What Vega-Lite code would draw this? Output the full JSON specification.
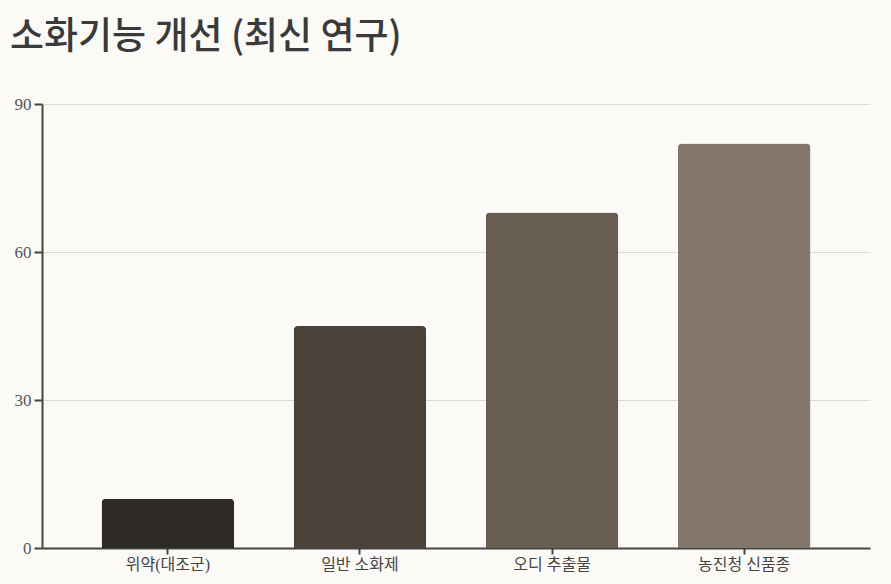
{
  "$schema": "https://vega.github.io/schema/vega-lite/v6.json",
  "width": 828,
  "height": 444,
  "autosize": {"type": "none"},
  "padding": {"left": 42, "top": 104, "right": 21, "bottom": 36},
  "background": "#fbfaf6",
  "title": {
    "text": "소화기능 개선 (최신 연구)",
    "anchor": "start",
    "frame": "group",
    "dx": -32,
    "offset": 38,
    "font": "Noto Sans CJK KR",
    "fontSize": 37,
    "fontWeight": 500,
    "color": "#3a3a3a"
  },
  "data": {
    "values": [
      {"group": "위약(대조군)", "value": 10},
      {"group": "일반 소화제", "value": 45},
      {"group": "오디 추출물", "value": 68},
      {"group": "농진청 신품종", "value": 82}
    ]
  },
  "mark": {"type": "bar", "cornerRadiusTopLeft": 4, "cornerRadiusTopRight": 4},
  "encoding": {
    "x": {
      "field": "group",
      "type": "nominal",
      "sort": null,
      "scale": {"paddingInner": 0.31, "paddingOuter": 0.31},
      "axis": {
        "title": null,
        "labelAngle": 0,
        "labelFont": "Liberation Serif, Noto Sans CJK KR",
        "labelFontSize": 16,
        "labelColor": "#444444",
        "domainColor": "#444444",
        "domainWidth": 2,
        "tickColor": "#444444",
        "tickWidth": 2,
        "tickSize": 6,
        "labelPadding": 2,
        "grid": false
      }
    },
    "y": {
      "field": "value",
      "type": "quantitative",
      "scale": {"domain": [0, 90]},
      "axis": {
        "title": null,
        "values": [0, 30, 60, 90],
        "labelFont": "Liberation Serif",
        "labelFontSize": 17,
        "labelColor": "#555555",
        "domainColor": "#444444",
        "domainWidth": 2,
        "tickColor": "#444444",
        "tickWidth": 2,
        "tickSize": 8,
        "labelPadding": 3,
        "gridColor": "#dcdad4",
        "gridWidth": 1
      }
    },
    "color": {
      "field": "group",
      "type": "nominal",
      "sort": null,
      "legend": null,
      "scale": {"range": ["#2d2a25", "#4b4339", "#675e50", "#82776a"]}
    }
  },
  "config": {"view": {"stroke": null}}
}
